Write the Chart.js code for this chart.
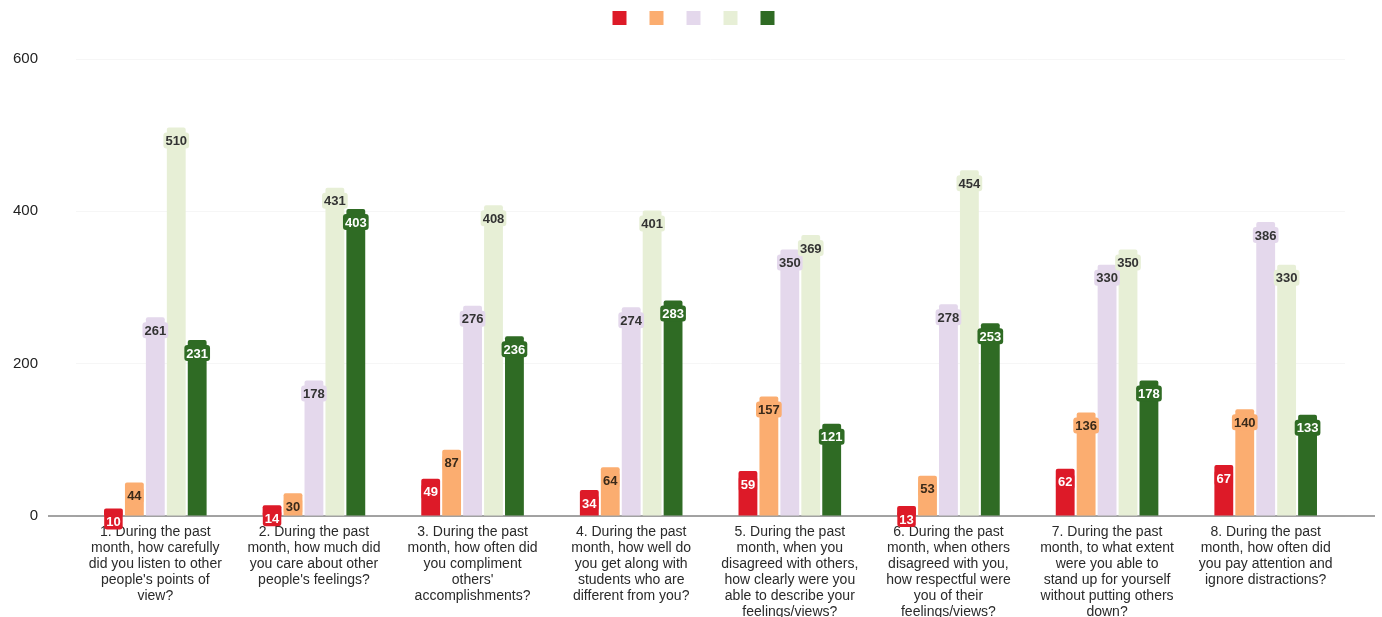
<!DOCTYPE html>
<html>
<head>
<meta charset="utf-8">
<script src="https://cdn.jsdelivr.net/npm/chart.js@4.4.1/dist/chart.umd.min.js"></script>
<style>
  html, body { margin: 0; padding: 0; background: #fff; }
  #wrap { width: 1382px; height: 617px; }
</style>
</head>
<body>
<div id="wrap"><canvas id="chart" width="1382" height="617"></canvas></div>
<script>
// question labels, one line per array entry
const questions = [
    ['1. During the past', 'month, how carefully', 'did you listen to other', "people's points of", 'view?'],
    ['2. During the past', 'month, how much did', 'you care about other', "people's feelings?"],
    ['3. During the past', 'month, how often did', 'you compliment', "others'", 'accomplishments?'],
    ['4. During the past', 'month, how well do', 'you get along with', 'students who are', 'different from you?'],
    ['5. During the past', 'month, when you', 'disagreed with others,', 'how clearly were you', 'able to describe your', 'feelings/views?'],
    ['6. During the past', 'month, when others', 'disagreed with you,', 'how respectful were', 'you of their', 'feelings/views?'],
    ['7. During the past', 'month, to what extent', 'were you able to', 'stand up for yourself', 'without putting others', 'down?'],
    ['8. During the past', 'month, how often did', 'you pay attention and', 'ignore distractions?']
];

// answer counts per response level
const level1 = [10, 14, 49, 34, 59, 13, 62, 67];
const level2 = [44, 30, 87, 64, 157, 53, 136, 140];
const level3 = [261, 178, 276, 274, 350, 278, 330, 386];
const level4 = [510, 431, 408, 401, 369, 454, 350, 330];
const level5 = [231, 403, 236, 283, 121, 253, 178, 133];

const yTicks = [0, 200, 400, 600];

const barColors = ['#dd1a28', '#fbad70', '#e4d8ec', '#e7efd6', '#2f6b24'];
const labelColors = ['#ffffff', '#3a2a1a', '#333333', '#333333', '#ffffff'];

// value tags sitting just inside the top of each bar
const valueTags = {
    id: 'valueTags',
    afterDatasetsDraw(chart) {
        const ctx = chart.ctx;
        ctx.save();
        ctx.font = 'bold 13px "Liberation Sans", Arial, sans-serif';
        ctx.textAlign = 'center';
        ctx.textBaseline = 'middle';
        chart.data.datasets.forEach((ds, i) => {
            const meta = chart.getDatasetMeta(i);
            meta.data.forEach((bar, j) => {
                const txt = String(ds.data[j]);
                const w = ctx.measureText(txt).width + 4;
                const cy = bar.y + 13;
                ctx.fillStyle = barColors[i];
                ctx.beginPath();
                ctx.roundRect(bar.x - w / 2, cy - 8, w, 16, 3);
                ctx.fill();
                ctx.fillStyle = labelColors[i];
                ctx.fillText(txt, bar.x, cy + 1);
            });
        });
        ctx.restore();
    }
};

// long baseline that runs past the plot on both sides
const baseline = {
    id: 'baseline',
    beforeDatasetsDraw(chart) {
        const ctx = chart.ctx;
        const y = chart.scales.y.getPixelForValue(0);
        ctx.save();
        ctx.strokeStyle = '#858585';
        ctx.lineWidth = 1.5;
        ctx.beginPath();
        ctx.moveTo(48, y);
        ctx.lineTo(1375, y);
        ctx.stroke();
        ctx.restore();
    }
};

// move the legend row up to the top edge and centre it on the page
const legendNudge = {
    id: 'legendNudge',
    beforeDraw(chart) {
        const lg = chart.legend;
        if (!lg) return;
        lg.top -= 24;
        lg.bottom -= 24;
        lg.left += 24;
        lg.right += 24;
    }
};

const datasets = [level1, level2, level3, level4, level5].map((vals, i) => ({
    label: '',
    data: vals,
    backgroundColor: barColors[i],
    borderWidth: 0,
    borderRadius: { topLeft: 2, topRight: 2 },
    barPercentage: 0.9,
    categoryPercentage: 0.66
}));

new Chart(document.getElementById('chart'), {
    type: 'bar',
    data: { labels: questions, datasets: datasets },
    options: {
        responsive: false,
        animation: false,
        layout: { padding: { top: 18, right: 37, bottom: 0, left: 0 } },
        plugins: {
            legend: {
                position: 'top',
                labels: { boxWidth: 14, boxHeight: 14, padding: 17, font: { size: 12 } }
            },
            tooltip: { enabled: false }
        },
        scales: {
            x: {
                grid: { display: false },
                border: { display: false },
                ticks: {
                    autoSkip: false,
                    maxRotation: 0,
                    padding: 0,
                    color: '#2a2a2a',
                    font: { family: '"Liberation Sans", Arial, sans-serif', size: 14, lineHeight: 1.15 }
                },
                afterFit: s => { s.height = 101; }
            },
            y: {
                min: 0,
                max: 600,
                afterBuildTicks: s => { s.ticks = yTicks.map(v => ({ value: v })); },
                grid: { color: '#f6f6f6', drawTicks: false },
                border: { display: false },
                ticks: {
                    padding: 38,
                    color: '#222',
                    font: { family: '"Liberation Sans", Arial, sans-serif', size: 15 }
                },
                afterFit: s => { s.width = 76; }
            }
        }
    },
    plugins: [baseline, valueTags, legendNudge]
});
</script>
</body>
</html>
